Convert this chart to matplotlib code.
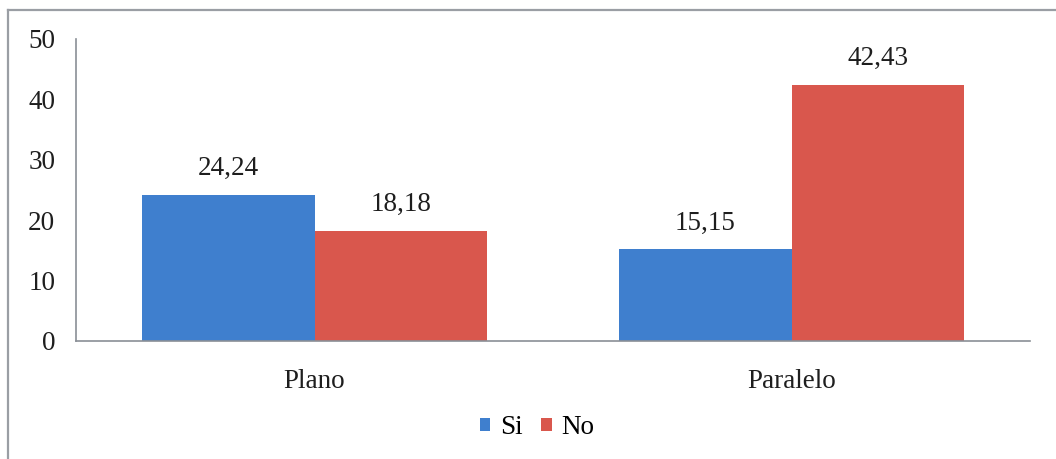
import matplotlib
matplotlib.use("Agg")
import matplotlib.pyplot as plt
from matplotlib.lines import Line2D
from matplotlib.patches import Patch
import numpy as np

categories = ["Plano", "Paralelo"]
series_names = ["Si", "No"]
si_values = [24.24, 15.15]
no_values = [18.18, 42.43]
y_ticks = [0, 10, 20, 30, 40, 50]

blue = "#3f7fce"
red = "#d9574d"
axis_gray = "#8a8f96"
text_color = "#1e1e1e"

plt.rcParams["font.family"] = ["Liberation Serif", "DejaVu Serif"]

W, H = 1056, 459
fig = plt.figure(figsize=(W / 100, H / 100), dpi=100)
ax = fig.add_axes([76 / W, 1 - 341 / H, (1030 - 76) / W, (341 - 39) / H])

x = np.arange(len(categories))
bw = 0.3625
ax.bar(x - bw / 2, si_values, width=bw, color=blue, label=series_names[0])
ax.bar(x + bw / 2, no_values, width=bw, color=red, label=series_names[1])

for xi, v in zip(x - bw / 2, si_values):
    ax.text(xi, v + 2.3, f"{v:.2f}".replace(".", ","), ha="center", va="bottom",
            fontsize=19.5, color=text_color)
for xi, v in zip(x + bw / 2, no_values):
    ax.text(xi, v + 2.3, f"{v:.2f}".replace(".", ","), ha="center", va="bottom",
            fontsize=19.5, color=text_color)

ax.set_xlim(-0.5, 1.5)
ax.set_ylim(0, 50)
ax.set_yticks(y_ticks)
ax.set_yticklabels([str(t) for t in y_ticks])
ax.set_xticks(x)
ax.set_xticklabels(categories)
ax.tick_params(axis="both", length=0, labelsize=19.5, colors=text_color)
ax.tick_params(axis="y", pad=15)
ax.tick_params(axis="x", pad=20)

for s in ["top", "right"]:
    ax.spines[s].set_visible(False)
for s in ["left", "bottom"]:
    ax.spines[s].set_color(axis_gray)
    ax.spines[s].set_linewidth(1.2)

handles = [Patch(facecolor=blue, label=series_names[0]),
           Patch(facecolor=red, label=series_names[1])]
fig.legend(handles=handles, loc="center", bbox_to_anchor=(537 / W, 1 - 428 / H),
           ncol=2, frameon=False, fontsize=19.5, handlelength=0.38, handleheight=0.38,
           handletextpad=0.35, columnspacing=0.7)

# outer frame (left and top edges)
fig.add_artist(Line2D([8 / W, 8 / W], [0, 1 - 10 / H], transform=fig.transFigure,
                      color="#9a9ea4", linewidth=1.6))
fig.add_artist(Line2D([8 / W, 1], [1 - 10 / H, 1 - 10 / H], transform=fig.transFigure,
                      color="#9a9ea4", linewidth=1.6))

fig.savefig("out.png", dpi=100)
